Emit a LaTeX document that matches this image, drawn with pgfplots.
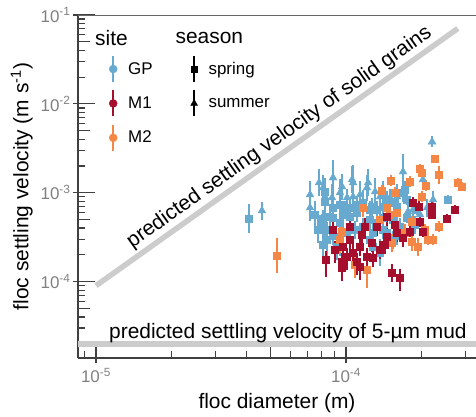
\documentclass[border=0pt]{standalone}
\usepackage{fontspec}
\setmainfont{Liberation Sans}
\usepackage{pgfplots}
\usepackage{pgfplotstable}
\pgfplotsset{compat=1.18}

\definecolor{gpblue}{HTML}{67A9CF}
\definecolor{mred}{HTML}{A50F2D}
\definecolor{morange}{HTML}{F58746}
\definecolor{refgray}{HTML}{CCCCCC}
\definecolor{axgray}{HTML}{404040}

\newcommand{\bigfont}{\fontsize{21}{25}\selectfont}
\newcommand{\legfont}{\fontsize{17}{20}\selectfont}
% legend group heading, set to the left of its column
\newcommand{\legtitle}[1]{\makebox[0pt][l]{\hspace*{-33bp}\bigfont #1}\rule[-15bp]{0pt}{0pt}}

% floc diameter (m), settling velocity (m/s), relative error up / down
\pgfplotstableread{
d w ep em
4.09e-5 5.10e-4 0.45 0.31
2.56e-4 8.34e-4 0.12 0.11
1.69e-4 1.00e-3 0.26 0.21
8.09e-5 5.10e-4 0.26 0.21
8.87e-5 5.23e-4 0.26 0.21
9.72e-5 5.66e-4 0.41 0.29
1.108e-4 5.96e-4 0.26 0.21
1.247e-4 4.97e-4 0.26 0.21
1.406e-4 5.23e-4 0.26 0.21
9.46e-5 7.33e-4 0.41 0.29
1.038e-4 6.78e-4 0.26 0.21
1.17e-4 7.71e-4 0.41 0.29
1.271e-4 6.96e-4 0.26 0.21
1.46e-4 8.34e-4 0.26 0.21
1.60e-4 6.96e-4 0.26 0.21
1.542e-4 4.97e-4 0.26 0.21
1.754e-4 5.23e-4 0.15 0.13
8.87e-5 3.28e-4 0.26 0.21
9.46e-5 2.74e-4 0.41 0.29
8.24e-5 3.84e-4 0.41 0.29
8.40e-5 2.96e-4 0.58 0.37
1.01e-4 3.55e-4 0.26 0.21
1.087e-4 3.84e-4 0.26 0.21
1.282e-4 3.55e-4 0.26 0.21
1.406e-4 3.84e-4 0.26 0.21
1.542e-4 2.96e-4 0.26 0.21
1.282e-4 2.48e-4 0.26 0.21
8.02e-5 4.60e-4 0.26 0.21
1.644e-4 4.15e-4 0.26 0.21
1.331e-4 6.44e-4 0.26 0.21
1.60e-4 1.00e-3 0.26 0.21
1.754e-4 8.34e-4 0.15 0.13
1.924e-4 6.44e-4 0.15 0.13
8.09e-5 2.60e-4 0.41 0.29
8.24e-5 7.92e-4 0.41 0.29
8.87e-5 6.78e-4 0.26 0.21
9.9e-5 6.44e-4 0.26 0.21
1.108e-4 7.33e-4 0.26 0.21
1.247e-4 6.44e-4 0.26 0.21
1.406e-4 6.96e-4 0.26 0.21
1.57e-4 7.71e-4 0.26 0.21
8.63e-5 5.37e-4 0.26 0.21
9.46e-5 4.60e-4 0.26 0.21
1.038e-4 5.37e-4 0.26 0.21
1.17e-4 4.15e-4 0.26 0.21
1.331e-4 4.60e-4 0.26 0.21
1.46e-4 3.55e-4 0.26 0.21
1.247e-4 2.96e-4 0.26 0.21
1.60e-4 3.28e-4 0.26 0.21
9.2e-5 2.48e-4 0.41 0.29
1.368e-4 2.12e-4 0.41 0.29
8.24e-5 1.026e-3 0.41 0.29
7.52e-5 5.66e-4 0.41 0.29
7.73e-5 3.84e-4 0.41 0.29
1.72e-4 1.08e-3 0.26 0.21
1.888e-4 4.37e-4 0.26 0.21
}\gpspring

\pgfplotstableread{
d w ep em
2.209e-4 3.74e-3 0.15 0.13
4.61e-5 6.27e-4 0.26 0.21
7.80e-5 1.295e-3 0.41 0.29
7.18e-5 9.5e-4 0.41 0.29
7.18e-5 6.78e-4 0.41 0.29
8.87e-5 1.474e-3 0.58 0.37
1.067e-4 1.295e-3 0.58 0.37
1.225e-4 1.295e-3 0.41 0.29
1.69e-4 1.72e-3 0.58 0.37
2.03e-4 1.40e-3 0.26 0.21
8.24e-5 9.0e-4 0.41 0.29
9.46e-5 1.0e-3 0.41 0.29
1.307e-4 1.026e-3 0.41 0.29
2.229e-4 8.34e-4 0.26 0.21
1.853e-4 6.44e-4 0.26 0.21
2.11e-4 6.78e-4 0.26 0.21
8.79e-5 8.78e-4 0.41 0.29
1.01e-4 8.78e-4 0.26 0.21
1.138e-4 9.49e-4 0.41 0.29
1.406e-4 9.49e-4 0.41 0.29
9.64e-5 1.167e-3 0.41 0.29
1.50e-4 8.78e-4 0.26 0.21
1.977e-4 5.66e-4 0.26 0.21
1.771e-4 6.12e-4 0.26 0.21
8.09e-5 1.137e-3 0.41 0.29
1.057e-4 1.40e-3 0.41 0.29
1.213e-4 1.137e-3 0.41 0.29
1.067e-4 9.0e-4 0.26 0.21
1.368e-4 9.0e-4 0.26 0.21
1.60e-4 9.0e-4 0.26 0.21
}\gpsummer

\pgfplotstableread{
d w ep em
5.30e-5 1.96e-4 0.58 0.37
2.27e-4 2.41e-3 0.08 0.07
1.977e-4 1.86e-3 0.12 0.11
2.01e-4 1.67e-3 0.12 0.11
2.356e-4 1.59e-3 0.26 0.21
1.513e-4 1.36e-3 0.15 0.13
1.803e-4 1.33e-3 0.15 0.13
1.394e-4 1.05e-3 0.15 0.13
1.57e-4 1.00e-3 0.15 0.13
2.807e-4 1.295e-3 0.12 0.11
2.91e-4 1.167e-3 0.12 0.11
2.01e-4 9.0e-4 0.15 0.13
2.09e-4 1.198e-3 0.15 0.13
1.17e-4 6.78e-4 0.26 0.21
1.46e-4 6.78e-4 0.26 0.21
1.50e-4 5.66e-4 0.26 0.21
1.60e-4 5.96e-4 0.26 0.21
1.837e-4 4.72e-4 0.15 0.13
2.07e-4 3.84e-4 0.15 0.13
2.356e-4 4.15e-4 0.15 0.13
2.13e-4 2.96e-4 0.15 0.13
2.229e-4 2.96e-4 0.15 0.13
1.94e-4 2.48e-4 0.26 0.21
9.46e-5 2.96e-4 0.41 0.29
1.213e-4 1.36e-4 0.58 0.37
1.368e-4 4.97e-4 0.26 0.21
1.528e-4 2.74e-4 0.26 0.21
1.087e-4 1.55e-4 0.41 0.29
9.64e-5 3.65e-4 0.41 0.29
1.72e-4 3.55e-4 0.26 0.21
1.837e-4 2.81e-4 0.26 0.21
}\mtwo

\pgfplotstableread{
d w ep em
1.853e-4 7.71e-4 0.15 0.13
1.96e-4 6.96e-4 0.15 0.13
2.209e-4 6.96e-4 0.12 0.11
2.209e-4 5.66e-4 0.12 0.11
2.73e-4 6.44e-4 0.12 0.11
2.536e-4 5.10e-4 0.12 0.11
2.03e-4 3.65e-4 0.15 0.13
1.803e-4 3.65e-4 0.15 0.13
8.87e-5 3.84e-4 0.26 0.21
8.32e-5 1.77e-4 0.26 0.37
9.64e-5 1.68e-4 0.26 0.29
1.01e-4 1.91e-4 0.26 0.29
1.067e-4 2.12e-4 0.26 0.29
1.138e-4 2.48e-4 0.26 0.21
1.191e-4 4.15e-4 0.26 0.21
1.331e-4 4.15e-4 0.26 0.21
1.271e-4 2.74e-4 0.26 0.21
1.038e-4 4.15e-4 0.26 0.21
1.528e-4 1.258e-4 0.26 0.21
1.644e-4 1.105e-4 0.26 0.29
1.138e-4 1.47e-4 0.26 0.29
1.46e-4 3.20e-4 0.26 0.21
1.60e-4 3.55e-4 0.26 0.21
1.038e-4 2.96e-4 0.26 0.21
9.72e-5 2.48e-4 0.26 0.21
1.368e-4 2.29e-4 0.26 0.21
1.213e-4 1.91e-4 0.26 0.29
1.69e-4 3.12e-4 0.26 0.21
1.16e-4 3.37e-4 0.26 0.21
9.64e-5 1.43e-4 0.26 0.29
1.282e-4 1.86e-4 0.26 0.21
1.46e-4 5.37e-4 0.26 0.21
9.04e-5 2.29e-4 0.26 0.29
1.108e-4 1.68e-4 0.26 0.29
1.433e-4 2.61e-4 0.26 0.21
1.57e-4 4.37e-4 0.26 0.21
1.977e-4 4.72e-4 0.15 0.13
}\mone

\pgfplotsset{
  floc/.style={only marks,
    error bars/y dir=both, error bars/y explicit relative,
    error bars/error mark=none,
    error bars/error bar style={line width=2.4bp}},
  leg glyph/.style n args={3}{legend image code/.code={
    \draw[#1, line width=2.4bp] (0bp,-13bp) -- (0bp,13bp);
    \path[draw=#1, fill=#1] plot[mark=#2, mark size=#3, only marks] coordinates {(0bp,0bp)};}},
}

\begin{document}
\begin{tikzpicture}
\begin{axis}[
  at={(0,0)}, anchor=south west, scale only axis,
  width=398bp, height=343bp,
  xmode=log, ymode=log,
  xmin=8.47e-6, xmax=3.31e-4, ymin=1.38e-5, ymax=0.1,
  axis x line*=bottom, axis y line*=left,
  axis line style={axgray, line width=1.2bp, -},
  tick style={axgray, line width=1.2bp},
  tick align=inside,
  xtick={1e-5,1e-4},
  xticklabels={10\textsuperscript{-5},10\textsuperscript{-4}},
  ytick={1e-4,1e-3,1e-2,1e-1},
  yticklabels={10\textsuperscript{-4},10\textsuperscript{-3},10\textsuperscript{-2},10\textsuperscript{-1}},
  minor xtick={9e-6,2e-5,3e-5,4e-5,6e-5,7e-5,8e-5,9e-5,2e-4,3e-4},
  minor ytick={2e-5,3e-5,4e-5,6e-5,7e-5,8e-5,9e-5,
               2e-4,3e-4,4e-4,6e-4,7e-4,8e-4,9e-4,
               2e-3,3e-3,4e-3,6e-3,7e-3,8e-3,9e-3,
               2e-2,3e-2,4e-2,6e-2,7e-2,8e-2,9e-2},
  extra x ticks={5e-5}, extra x tick labels={},
  extra y ticks={5e-5,5e-4,5e-3,5e-2}, extra y tick labels={},
  major tick length=22bp, minor tick length=7bp,
  major x tick style={yshift=-5bp},
  major y tick style={xshift=-5bp},
  extra x tick style={major tick length=12bp, major x tick style={yshift=5bp}},
  extra y tick style={major tick length=12bp, major y tick style={xshift=5bp}},
  ticklabel style={font=\legfont, text=black!50},
  xticklabel style={yshift=-7bp},
  yticklabel style={xshift=-4bp},
  xlabel={floc diameter (m)},
  ylabel={floc settling velocity (m s\textsuperscript{-1})},
  label style={font=\bigfont},
  xlabel style={at={(axis description cs:0.5,-0.131)}, anchor=center},
  ylabel style={at={(axis description cs:-0.141,0.5)}, anchor=center},
  legend columns=2,
  legend cell align=left,
  legend style={at={(axis description cs:0.0704,0.968)}, anchor=north west,
    draw=none, fill=none, font=\legfont, row sep=6bp,
    nodes={inner sep=2bp},
    /tikz/every odd column/.style={column sep=9bp},
    /tikz/column 2/.style={column sep=36bp}},
]
% reference settling velocities
\addplot[refgray, line width=6bp, forget plot] coordinates {(8.47e-6,2.0e-5) (3.31e-4,2.0e-5)};
\node[anchor=base west, inner sep=0pt, font=\bigfont, yshift=5bp] at (axis cs:1.127e-5,2.0e-5)
  {predicted settling velocity of 5-µm mud};
\addplot[refgray, line width=5.5bp, forget plot] coordinates {(1e-5,9.0e-5) (2.8e-4,7.05e-2)}
  node[pos=0.53, sloped, above=2bp, inner sep=0pt, text=black, font=\bigfont]
  {predicted settling velocity of solid grains};

% measured flocs
\addplot[gpblue, floc, mark=square*, mark size=3.5bp, mark options={draw=gpblue, fill=gpblue}, forget plot]
  table[x=d, y=w, y error plus=ep, y error minus=em] {\gpspring};
\addplot[gpblue, floc, mark=triangle*, mark size=4.5bp, mark options={draw=gpblue, fill=gpblue}, forget plot]
  table[x=d, y=w, y error plus=ep, y error minus=em] {\gpsummer};
\addplot[morange, floc, mark=square*, mark size=3.5bp, mark options={draw=morange, fill=morange}, forget plot]
  table[x=d, y=w, y error plus=ep, y error minus=em] {\mtwo};
\addplot[mred, floc, mark=square*, mark size=3.5bp, mark options={draw=mred, fill=mred}, forget plot]
  table[x=d, y=w, y error plus=ep, y error minus=em] {\mone};

\draw[axgray!80, line width=1bp] (rel axis cs:0,1) -- (rel axis cs:1,1);

% legend
\addlegendimage{empty legend}\addlegendentry{\legtitle{site}}
\addlegendimage{empty legend}\addlegendentry{\legtitle{season}}
\addlegendimage{leg glyph={gpblue}{*}{4bp}}\addlegendentry{GP}
\addlegendimage{leg glyph={black}{square*}{3bp}}\addlegendentry{spring}
\addlegendimage{leg glyph={mred}{*}{4bp}}\addlegendentry{M1}
\addlegendimage{leg glyph={black}{triangle*}{4bp}}\addlegendentry{summer}
\addlegendimage{leg glyph={morange}{*}{4bp}}\addlegendentry{M2}
\addlegendimage{empty legend}\addlegendentry{}
\end{axis}
\pgfresetboundingbox
\path[use as bounding box] (-78bp,-59bp) rectangle (398bp,358bp);
\end{tikzpicture}
\end{document}
